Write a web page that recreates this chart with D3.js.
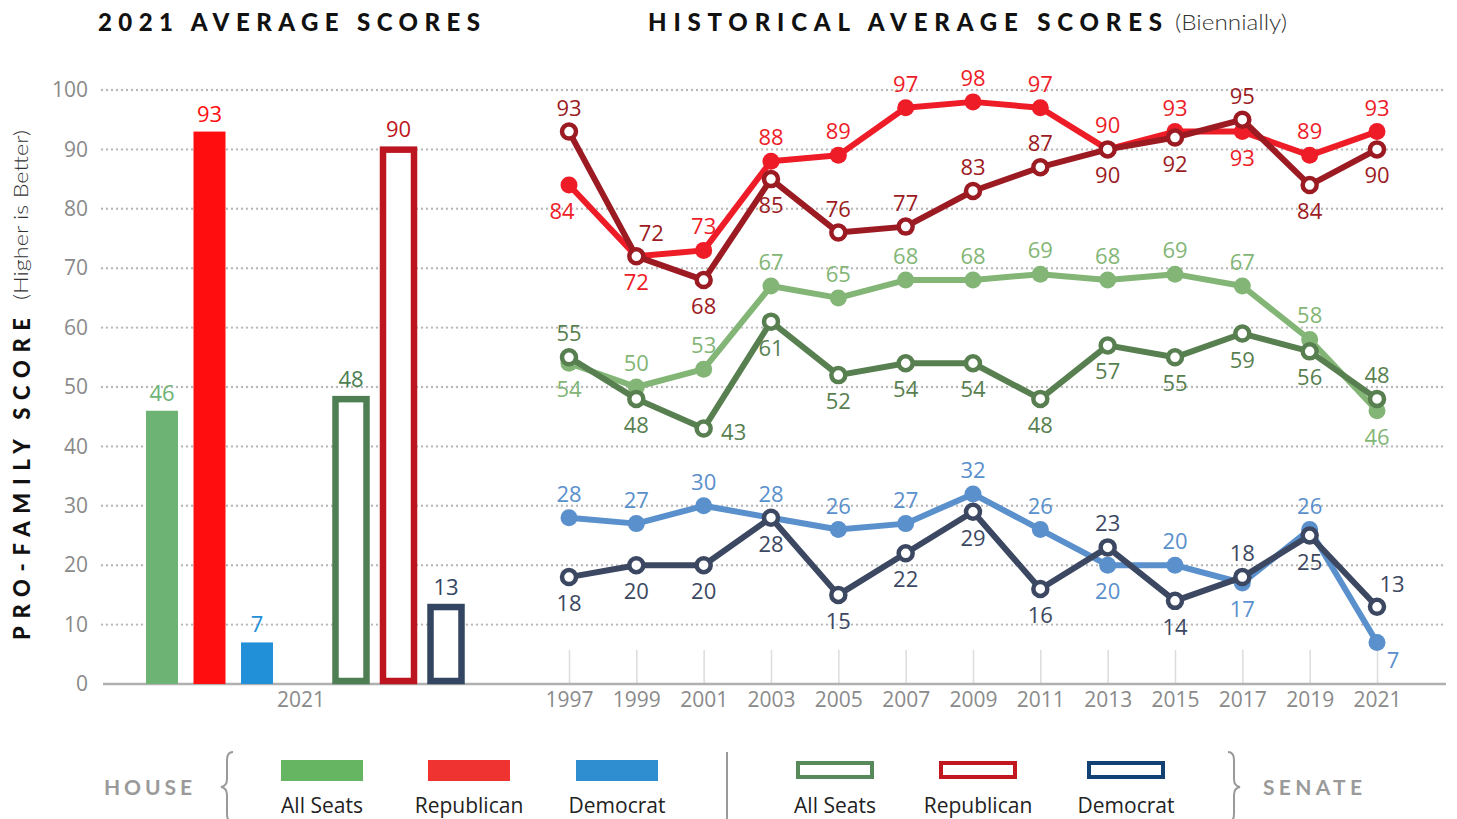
<!DOCTYPE html>
<html>
<head>
<meta charset="utf-8">
<script src="https://cdn.jsdelivr.net/npm/d3@7/dist/d3.min.js"></script>
<style>
  body { margin: 0; background: #fff; }
  text { font-family: "Open Sans", "Noto Sans", sans-serif; }
</style>
</head>
<body>
<script>
// ---- data ----
const years = [1997, 1999, 2001, 2003, 2005, 2007, 2009, 2011, 2013, 2015, 2017, 2019, 2021];
const houseAll  = [54, 50, 53, 67, 65, 68, 68, 69, 68, 69, 67, 58, 46];
const senateAll = [55, 48, 43, 61, 52, 54, 54, 48, 57, 55, 59, 56, 48];
const houseDem  = [28, 27, 30, 28, 26, 27, 32, 26, 20, 20, 17, 26, 7];
const senateDem = [18, 20, 20, 28, 15, 22, 29, 16, 23, 14, 18, 25, 13];
const houseRep  = [84, 72, 73, 88, 89, 97, 98, 97, 90, 93, 93, 89, 93];
const senateRep = [93, 72, 68, 85, 76, 77, 83, 87, 90, 92, 95, 84, 90];

const chambers = ["House", "Senate"];
const parties = ["All Seats", "Republican", "Democrat"];
const house2021 = [46, 93, 7];
const senate2021 = [48, 90, 13];
const barYear = ["2021"];
const yTicks = [0, 10, 20, 30, 40, 50, 60, 70, 80, 90, 100];

// where each point label sits (a = above, b = below, ...)
const houseAllSide  = ["b","a","a","a","a","a","a","a","a","a","a","a","b"];
const senateAllSide = ["a","b","r","b","b","b","b","b","b","b","b","b","a"];
const houseDemSide  = ["a","a","a","a","a","a","a","a","b","a","b","a","br"];
const senateDemSide = ["b","b","b","b","b","b","b","b","a","b","a","b","ar"];
const houseRepSide  = ["bl","b","a","a","a","a","a","a","a","a","b","a","a"];
const senateRepSide = ["a","ar","b","b","a","a","a","a","b","b","a","b","b"];
const sideOffset = { a: [0, -16], b: [0, 34], ar: [15, -15], br: [16, 26], r: [30, 11], bl: [-7, 34] };

const W = 1457, H = 819;
let svg, y, xYear, xOuter, xGroup, xParty;

appendSvg("body");
setupScales();
appendGrid();
appendTitles();
appendBars();
appendLines();
appendLegend();

function appendSvg(domElement) {
  svg = d3.select(domElement).append("svg")
    .attr("width", W)
    .attr("height", H);
}

function setupScales() {
  y = d3.scaleLinear().domain([0, 100]).range([684, 90]);
  xYear = d3.scalePoint().domain(years).range([569, 1377]);
  xOuter = d3.scaleBand().domain(barYear).range([111, 491]);
  xGroup = d3.scaleBand().domain(chambers).range([115, 491]);
  xParty = d3.scalePoint().domain(parties).range([47, 142]);
}

function appendGrid() {
  // dotted gridlines
  svg.append("g").selectAll("line")
    .data(yTicks.filter(d => d > 0))
    .enter().append("line")
    .attr("x1", 102).attr("x2", 1446)
    .attr("y1", d => y(d)).attr("y2", d => y(d))
    .attr("stroke", "#b9b9b9")
    .attr("stroke-width", 2.4)
    .attr("stroke-linecap", "round")
    .attr("stroke-dasharray", "0,5");

  // y axis labels
  const ya = svg.append("g")
    .attr("transform", "translate(96,0)")
    .call(d3.axisLeft(y).tickValues(yTicks).tickSize(0).tickPadding(8));
  ya.select(".domain").remove();
  ya.selectAll("text")
    .attr("fill", "#8a8a8a")
    .style("font-size", "21px")
    .style("font-family", "'Open Sans', sans-serif");

  // year ticks for the history chart
  const xa = svg.append("g")
    .attr("transform", `translate(0, ${y(0)})`)
    .call(d3.axisBottom(xYear).tickSizeInner(-34).tickSizeOuter(0).tickPadding(8));
  xa.select(".domain").remove();
  xa.selectAll("line").attr("stroke", "#dcdcdc").attr("stroke-width", 1.5);
  xa.selectAll("text")
    .attr("fill", "#8a8a8a")
    .style("font-size", "21px")
    .style("font-family", "'Open Sans', sans-serif");

  // 2021 label for the bar chart
  const xb = svg.append("g")
    .attr("transform", `translate(0, ${y(0)})`)
    .call(d3.axisBottom(xOuter).tickSize(0).tickPadding(8));
  xb.select(".domain").remove();
  xb.selectAll("text")
    .attr("fill", "#8a8a8a")
    .style("font-size", "21px")
    .style("font-family", "'Open Sans', sans-serif");

  // baseline
  svg.append("line")
    .attr("x1", 103).attr("x2", 1446)
    .attr("y1", y(0)).attr("y2", y(0))
    .attr("stroke", "#b0b0b0")
    .attr("stroke-width", 2.5);
}

function appendTitles() {
  svg.append("text")
    .attr("x", 98).attr("y", 31)
    .attr("textLength", 382).attr("lengthAdjust", "spacing")
    .style("font-family", "Lato, sans-serif")
    .style("font-weight", 900)
    .style("font-size", "24px")
    .attr("fill", "#111")
    .text("2021 AVERAGE SCORES");

  svg.append("text")
    .attr("x", 648).attr("y", 31)
    .attr("textLength", 514).attr("lengthAdjust", "spacing")
    .style("font-family", "Lato, sans-serif")
    .style("font-weight", 900)
    .style("font-size", "24px")
    .attr("fill", "#111")
    .text("HISTORICAL AVERAGE SCORES");

  svg.append("text")
    .attr("x", 1175).attr("y", 30)
    .attr("textLength", 112).attr("lengthAdjust", "spacingAndGlyphs")
    .style("font-family", "Lato, sans-serif")
    .style("font-weight", 300)
    .style("font-size", "21px")
    .attr("fill", "#333")
    .text("(Biennially)");

  // y axis title
  const yt = svg.append("g").attr("transform", "translate(30, 640) rotate(-90)");
  yt.append("text")
    .attr("x", 0).attr("y", 0)
    .attr("textLength", 322).attr("lengthAdjust", "spacing")
    .style("font-family", "Lato, sans-serif")
    .style("font-weight", 900)
    .style("font-size", "22px")
    .attr("fill", "#111")
    .text("PRO-FAMILY SCORE");
  yt.append("text")
    .attr("x", 340).attr("y", -2)
    .attr("textLength", 170).attr("lengthAdjust", "spacingAndGlyphs")
    .style("font-family", "Lato, sans-serif")
    .style("font-weight", 300)
    .style("font-size", "20px")
    .attr("fill", "#333")
    .text("(Higher is Better)");
}

function appendBars() {
  const houseFill = ["#6db374", "#ff0d0f", "#2290d8"];
  const senateStroke = ["#4d7f53", "#bd1520", "#334560"];
  const bw = 32, sw = 31, sStroke = 6.5;

  const hx = i => xGroup("House") + xParty(parties[i]);
  const sx = i => xGroup("Senate") + xParty(parties[i]) + 1;

  svg.append("g").selectAll("rect")
    .data(house2021)
    .enter().append("rect")
    .attr("x", (d, i) => hx(i) - bw / 2)
    .attr("y", d => y(d))
    .attr("width", bw)
    .attr("height", d => y(0) - y(d))
    .attr("fill", (d, i) => houseFill[i]);

  svg.append("g").selectAll("text")
    .data(house2021)
    .enter().append("text")
    .attr("x", (d, i) => hx(i))
    .attr("y", d => y(d) - 10)
    .attr("text-anchor", "middle")
    .attr("fill", (d, i) => houseFill[i])
    .style("font-size", "22px")
    .text(d => d);

  svg.append("g").selectAll("rect")
    .data(senate2021)
    .enter().append("rect")
    .attr("x", (d, i) => sx(i) - sw / 2)
    .attr("y", d => y(d) + sStroke / 2 - 3)
    .attr("width", sw)
    .attr("height", d => y(0) - y(d) - sStroke / 2)
    .attr("fill", "#fff")
    .attr("stroke", (d, i) => senateStroke[i])
    .attr("stroke-width", sStroke);

  svg.append("g").selectAll("text")
    .data(senate2021)
    .enter().append("text")
    .attr("x", (d, i) => sx(i))
    .attr("y", d => y(d) - 12)
    .attr("text-anchor", "middle")
    .attr("fill", (d, i) => senateStroke[i])
    .style("font-size", "22px")
    .text(d => d);
}

function appendLines() {
  const series = [
    { values: houseAll,  side: houseAllSide,  color: "#83b676", hollow: false },
    { values: senateAll, side: senateAllSide, color: "#587f50", hollow: true },
    { values: houseDem,  side: houseDemSide,  color: "#5a90cc", hollow: false },
    { values: senateDem, side: senateDemSide, color: "#3c4862", hollow: true },
    { values: houseRep,  side: houseRepSide,  color: "#ee1c27", hollow: false },
    { values: senateRep, side: senateRepSide, color: "#9c1b23", hollow: true }
  ];

  const line = d3.line()
    .x((d, i) => xYear(years[i]))
    .y(d => y(d));

  series.forEach(s => {
    const g = svg.append("g");
    g.append("path")
      .datum(s.values)
      .attr("d", line)
      .attr("fill", "none")
      .attr("stroke", s.color)
      .attr("stroke-width", 6)
      .attr("stroke-linejoin", "round");

    g.selectAll("circle")
      .data(s.values)
      .enter().append("circle")
      .attr("cx", (d, i) => xYear(years[i]))
      .attr("cy", d => y(d))
      .attr("r", s.hollow ? 7 : 8.5)
      .attr("fill", s.hollow ? "#fff" : s.color)
      .attr("stroke", s.hollow ? s.color : "none")
      .attr("stroke-width", 4.5);

    g.selectAll("text")
      .data(s.values)
      .enter().append("text")
      .attr("x", (d, i) => xYear(years[i]) + sideOffset[s.side[i]][0])
      .attr("y", (d, i) => y(d) + sideOffset[s.side[i]][1])
      .attr("text-anchor", "middle")
      .attr("fill", s.color)
      .style("font-size", "22px")
      .text(d => d);
  });
}

function appendLegend() {
  const lg = svg.append("g");
  const houseKey = ["#66b562", "#ef3331", "#2f8ecf"];
  const senateKey = ["#57895a", "#c1181f", "#124273"];
  const houseX = [322, 469, 617];
  const senateX = [835, 978, 1126];

  lg.append("text")
    .attr("x", 104).attr("y", 795)
    .attr("textLength", 88).attr("lengthAdjust", "spacing")
    .style("font-family", "Lato, sans-serif")
    .style("font-weight", 700)
    .style("font-size", "21px")
    .attr("fill", "#9a9a9a")
    .text("HOUSE");

  lg.append("text")
    .attr("x", 1263).attr("y", 795)
    .attr("textLength", 99).attr("lengthAdjust", "spacing")
    .style("font-family", "Lato, sans-serif")
    .style("font-weight", 700)
    .style("font-size", "21px")
    .attr("fill", "#9a9a9a")
    .text("SENATE");

  // braces and divider
  lg.append("path")
    .attr("d", "M233,752 Q227,752 227,760 L227,779 Q227,786 221,787 Q227,788 227,795 L227,814 Q227,822 233,822")
    .attr("fill", "none").attr("stroke", "#9a9a9a").attr("stroke-width", 2);
  lg.append("path")
    .attr("d", "M1228,752 Q1234,752 1234,760 L1234,779 Q1234,786 1240,787 Q1234,788 1234,795 L1234,814 Q1234,822 1228,822")
    .attr("fill", "none").attr("stroke", "#9a9a9a").attr("stroke-width", 2);
  lg.append("line")
    .attr("x1", 727).attr("x2", 727).attr("y1", 752).attr("y2", 819)
    .attr("stroke", "#9a9a9a").attr("stroke-width", 2);

  lg.selectAll(".hk")
    .data(parties)
    .enter().append("rect")
    .attr("x", (d, i) => houseX[i] - 41)
    .attr("y", 760)
    .attr("width", 82).attr("height", 21)
    .attr("fill", (d, i) => houseKey[i]);

  lg.selectAll(".sk")
    .data(parties)
    .enter().append("rect")
    .attr("x", (d, i) => senateX[i] - 37)
    .attr("y", 763)
    .attr("width", 74).attr("height", 14)
    .attr("fill", "#fff")
    .attr("stroke", (d, i) => senateKey[i])
    .attr("stroke-width", 4);

  lg.selectAll(".hl")
    .data(parties)
    .enter().append("text")
    .attr("x", (d, i) => houseX[i])
    .attr("y", 813)
    .attr("text-anchor", "middle")
    .attr("fill", "#222")
    .style("font-size", "21px")
    .text(d => d);

  lg.selectAll(".sl")
    .data(parties)
    .enter().append("text")
    .attr("x", (d, i) => senateX[i])
    .attr("y", 813)
    .attr("text-anchor", "middle")
    .attr("fill", "#222")
    .style("font-size", "21px")
    .text(d => d);
}
</script>
</body>
</html>
